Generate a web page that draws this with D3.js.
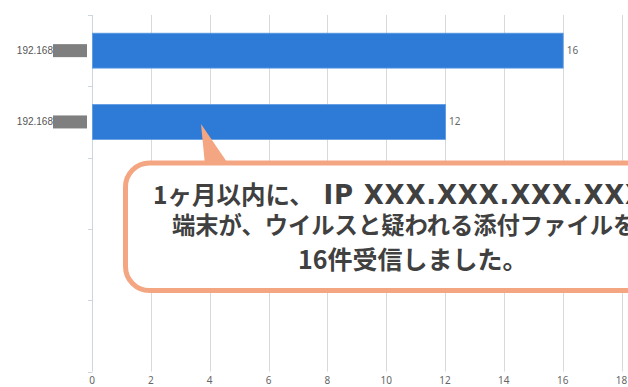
<!DOCTYPE html>
<html>
<head>
<meta charset="utf-8">
<script src="https://cdn.jsdelivr.net/npm/d3@7/dist/d3.min.js"></script>
<style>
  html, body { margin: 0; padding: 0; background: #fff; }
  svg { display: block; }
</style>
</head>
<body>
<svg id="chart" width="628" height="387"></svg>
<script>
// Source hosts (the trailing octets are masked) and received attachment counts
const hosts = ["192.168", "192.168", "", "", ""];
const counts = [16, 12, null, null, null];
const xTicks = [0, 2, 4, 6, 8, 10, 12, 14, 16, 18];
const calloutLines = [
  "1ヶ月以内に、 IP XXX.XXX.XXX.XXXの",
  "端末が、ウイルスと疑われる添付ファイルを",
  "16件受信しました。"
];

const svg = d3.select("#chart");
const margin = { top: 15, left: 92 };
const plotBottom = 371.5;
const plotRight = 621.5;

const x = d3.scaleLinear().domain([0, 18]).range([margin.left, plotRight]);
const y = d3.scaleBand().domain(d3.range(hosts.length)).range([margin.top, plotBottom]).padding(0);

// vertical grid lines
svg.append("g")
  .selectAll("line")
  .data(xTicks.slice(1))
  .join("line")
  .attr("x1", d => Math.round(x(d)) + 0.5)
  .attr("x2", d => Math.round(x(d)) + 0.5)
  .attr("y1", margin.top)
  .attr("y2", plotBottom)
  .attr("stroke", "#d9d9d9")
  .attr("stroke-width", 1);

// x tick labels
svg.append("g")
  .selectAll("text")
  .data(xTicks)
  .join("text")
  .attr("x", d => x(d))
  .attr("y", 384)
  .attr("text-anchor", "middle")
  .attr("font-family", "Noto Sans, sans-serif")
  .attr("font-size", 10)
  .attr("fill", "#666")
  .text(d => d);

// category axis with ticks at band boundaries
const axisG = svg.append("g");
axisG.append("line")
  .attr("x1", margin.left + 0.5).attr("x2", margin.left + 0.5)
  .attr("y1", margin.top).attr("y2", plotBottom)
  .attr("stroke", "#cdd5df");
const bounds = hosts.map((h, i) => y(i)).concat([plotBottom]);
axisG.selectAll("line.tick")
  .data(bounds)
  .join("line")
  .attr("class", "tick")
  .attr("x1", margin.left - 4).attr("x2", margin.left + 0.5)
  .attr("y1", d => Math.round(d) + 0.5).attr("y2", d => Math.round(d) + 0.5)
  .attr("stroke", "#cdd5df");

// bars
const barH = y.bandwidth() * 0.49;
const data = hosts.map((h, i) => ({ host: h, value: counts[i], i }));
svg.append("g")
  .selectAll("rect")
  .data(data.filter(d => d.value != null))
  .join("rect")
  .attr("x", x(0) + 0.5)
  .attr("y", d => y(d.i) + (y.bandwidth() - barH) / 2)
  .attr("width", d => x(d.value) - x(0))
  .attr("height", barH)
  .attr("fill", "#2e7bd7")
  .attr("stroke", "#5c9be2")
  .attr("stroke-width", 0.8);

// value labels
svg.append("g")
  .selectAll("text")
  .data(data.filter(d => d.value != null))
  .join("text")
  .attr("x", d => x(d.value) + 4)
  .attr("y", d => y(d.i) + y.bandwidth() / 2 + 3.5)
  .attr("font-family", "Noto Sans, sans-serif")
  .attr("font-size", 10)
  .attr("fill", "#666")
  .text(d => d.value);

// host labels with masked suffix
const labelG = svg.append("g");
labelG.selectAll("text")
  .data(data.filter(d => d.host))
  .join("text")
  .attr("x", 53)
  .attr("y", d => y(d.i) + y.bandwidth() / 2 + 3.5)
  .attr("text-anchor", "end")
  .attr("font-family", "Liberation Sans, Arial, sans-serif")
  .attr("font-size", 10)
  .attr("fill", "#555")
  .text(d => d.host);
labelG.selectAll("rect")
  .data(data.filter(d => d.host))
  .join("rect")
  .attr("x", 53)
  .attr("y", d => y(d.i) + y.bandwidth() / 2 - 6.5)
  .attr("width", 34)
  .attr("height", 13)
  .attr("fill", "#7f7f7f");

// callout box pointing at the second bar
const salmon = "#f4a683";
const callout = svg.append("g");
callout.append("rect")
  .attr("x", 125.5).attr("y", 163)
  .attr("width", 600).attr("height", 127.5)
  .attr("rx", 24).attr("ry", 24)
  .attr("fill", "#fff")
  .attr("stroke", salmon)
  .attr("stroke-width", 5);
callout.append("path")
  .attr("d", "M201,124 L205,165 L229,165 Z")
  .attr("fill", salmon);

// callout text: Latin runs get a wider face than the CJK runs
const lineStarts = [153, 172, 298];
const lineBaselines = [204, 234, 269];
const lineSizes = [24.5, 23.3, 25];
const splitRuns = s => s.match(/[A-Za-z. ]+|[^A-Za-z. ]+/g);
const lineTexts = callout.selectAll("text")
  .data(calloutLines)
  .join("text")
  .attr("x", (d, i) => lineStarts[i])
  .attr("y", (d, i) => lineBaselines[i])
  .attr("font-family", "Noto Sans CJK JP, sans-serif")
  .attr("font-weight", 700)
  .attr("font-size", (d, i) => lineSizes[i])
  .attr("fill", "#404040");
lineTexts.selectAll("tspan")
  .data(d => splitRuns(d))
  .join("tspan")
  .each(function (run) {
    const t = d3.select(this).text(run);
    if (/^[A-Za-z. ]+$/.test(run)) {
      t.attr("font-family", "DejaVu Sans, sans-serif")
        .attr("font-size", 26)
        .attr("letter-spacing", 0.8);
    }
  });
</script>
</body>
</html>
